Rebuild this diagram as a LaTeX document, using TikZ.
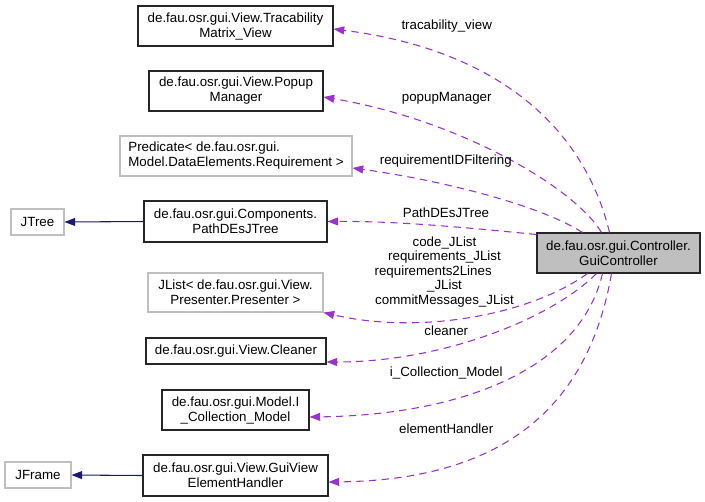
\documentclass[tikz,border=0pt]{standalone}
\usepackage{fontspec}
\setmainfont{Liberation Sans}
\usetikzlibrary{arrows.meta,calc}
\definecolor{edgepurple}{HTML}{9A32CD}
\definecolor{navyedge}{HTML}{191970}
\definecolor{lightborder}{HTML}{BFBFBF}
\definecolor{focusfill}{HTML}{BFBFBF}
\begin{document}
\begin{tikzpicture}[x=0.75pt,y=-0.75pt,
  every node/.style={font=\fontsize{10}{11.25}\selectfont},
  cls/.style={draw=black!85,line width=0.8pt,inner sep=0pt,align=center},
  ext/.style={draw=lightborder,line width=0.8pt,inner sep=0pt,align=center},
  focus/.style={draw=black!85,fill=focusfill,line width=0.8pt,inner sep=0pt,align=center},
  uses/.style={draw=edgepurple,dashed,dash pattern=on 5.5pt off 4pt,line width=0.8pt,-{Triangle[length=8pt,width=6pt]}},
  inherit/.style={draw=navyedge,line width=0.8pt,-{Triangle[length=8pt,width=6pt]}},
  lbl/.style={inner sep=0pt,align=center}]
\useasboundingbox (0,0) rectangle (705,501);

\node[cls,minimum width=146.25pt,minimum height=30pt] (trac) at (235.5,26) {de.fau.osr.gui.View.Tracability\\Matrix\_View};
\node[cls,minimum width=130.5pt,minimum height=30pt] (popup) at (236,91) {de.fau.osr.gui.View.Popup\\Manager};
\node[ext,minimum width=174pt,minimum height=30pt,align=left] (pred) at (236,156) {Predicate< de.fau.osr.gui.\\Model.DataElements.Requirement >};
\node[ext,minimum width=39.75pt,minimum height=19.5pt] (jtree) at (37.5,222) {JTree};
\node[cls,minimum width=137.25pt,minimum height=30.75pt] (path) at (235.5,221.5) {de.fau.osr.gui.Components.\\PathDEsJTree};
\node[ext,minimum width=131.25pt,minimum height=29.25pt] (jlist) at (235.5,292.5) {JList< de.fau.osr.gui.View.\\Presenter.Presenter >};
\node[cls,minimum width=135pt,minimum height=19.5pt] (cleaner) at (236,351) {de.fau.osr.gui.View.Cleaner};
\node[cls,minimum width=110.25pt,minimum height=30pt] (icoll) at (235.5,410) {de.fau.osr.gui.Model.I\\\_Collection\_Model};
\node[ext,minimum width=49.5pt,minimum height=19.5pt] (jframe) at (38,475) {JFrame};
\node[cls,minimum width=138.75pt,minimum height=30.75pt] (guiview) at (235.5,475.5) {de.fau.osr.gui.View.GuiView\\ElementHandler};
\node[focus,minimum width=122.25pt,minimum height=30pt] (gc) at (618.5,253) {de.fau.osr.gui.Controller.\\GuiController};

% inheritance
\draw[inherit] (path.west) -- (jtree.east);
\draw[inherit] (guiview.west) -- (jframe.east);

% usage edges
\draw[uses] ($(gc.north west)+(73,0)$) .. controls (585,130) and (500,50) .. ($(trac.east)+(0,3)$);
\draw[uses] ($(gc.north west)+(65,0)$) .. controls (575,188) and (460,120) .. ($(popup.east)+(0,6)$);
\draw[uses] ($(gc.north west)+(46,0)$) .. controls (540,205) and (440,180) .. ($(pred.east)+(0,12)$);
\draw[uses] ($(gc.north west)+(0,2)$) .. controls (470,228) and (400,221) .. (path.east);
\draw[uses] ($(gc.south west)+(51,0)$) .. controls (530,315) and (420,335) .. (jlist.south east);
\draw[uses] ($(gc.south west)+(60,0)$) .. controls (550,320) and (440,362) .. ($(cleaner.east)+(0,11)$);
\draw[uses] ($(gc.south west)+(66,0)$) .. controls (580,370) and (460,415) .. ($(icoll.east)+(0,7)$);
\draw[uses] ($(gc.south west)+(75,0)$) .. controls (588,410) and (500,480) .. ($(guiview.east)+(0,6.5)$);

% labels
\node[lbl] (l1) at (446.7,26) {tracability\_view};
\node[lbl] (l2) at (446.7,98) {popupManager};
\node[lbl] (l3) at (445.8,161.5) {requirementIDFiltering};
\node[lbl] (l4) at (446,213) {PathDEsJTree};
\node[lbl,font=\fontsize{10}{10.9}\selectfont] (l5) at (444.5,271.7) {code\_JList\\requirements\_JList\\requirements2Lines\hspace*{17pt}\null\\\_JList\\commitMessages\_JList};
\node[lbl] (l6) at (446.3,330.7) {cleaner};
\node[lbl] (l7) at (446.3,373.3) {i\_Collection\_Model};
\node[lbl] (l8) at (446.2,428.3) {elementHandler};
\end{tikzpicture}
\end{document}
